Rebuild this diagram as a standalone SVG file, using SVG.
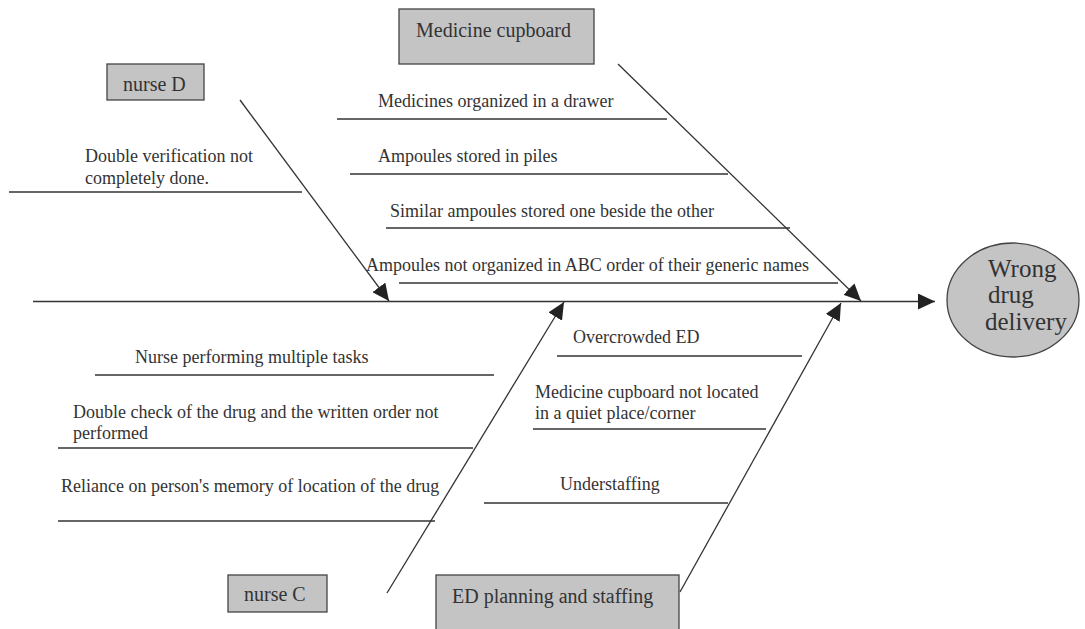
<svg xmlns="http://www.w3.org/2000/svg" width="1085" height="629" viewBox="0 0 1085 629" font-family="Liberation Serif, DejaVu Serif, serif">
<style>
  .lbl{font-size:18px;fill:#333}
  .box{fill:#c4c4c4;stroke:#444;stroke-width:1.3}
  .btxt{font-size:20px;fill:#333}
  .etxt{font-size:25px;fill:#333}
  .ln{stroke:#333;stroke-width:1.3;fill:none}
</style>
<defs>
  <marker id="ah" markerUnits="userSpaceOnUse" markerWidth="18" markerHeight="16" refX="17" refY="8" orient="auto">
    <path d="M0,0 L17,8 L0,16 z" fill="#222"/>
  </marker>
</defs>
<rect width="1085" height="629" fill="#fff"/>
<g id="connectors">
  <line class="ln" x1="33" y1="301.5" x2="935" y2="301.5" marker-end="url(#ah)"/>
  <line class="ln" x1="618" y1="64" x2="861" y2="301" marker-end="url(#ah)"/>
  <line class="ln" x1="240" y1="100" x2="389" y2="301" marker-end="url(#ah)"/>
  <line class="ln" x1="387" y1="593" x2="564" y2="302" marker-end="url(#ah)"/>
  <line class="ln" x1="680" y1="592" x2="841" y2="303" marker-end="url(#ah)"/>
</g>
<g id="cause-lines">
  <line class="ln" x1="337" y1="119" x2="667" y2="119"/>
  <line class="ln" x1="350" y1="174" x2="728" y2="174"/>
  <line class="ln" x1="386" y1="228" x2="790" y2="228"/>
  <line class="ln" x1="399" y1="283" x2="838" y2="283"/>
  <line class="ln" x1="9" y1="192" x2="302" y2="192"/>
  <line class="ln" x1="95" y1="375" x2="494" y2="375"/>
  <line class="ln" x1="58" y1="448" x2="473" y2="448"/>
  <line class="ln" x1="58" y1="521" x2="435" y2="521"/>
  <line class="ln" x1="557" y1="356" x2="802" y2="356"/>
  <line class="ln" x1="533" y1="429" x2="766" y2="429"/>
  <line class="ln" x1="484" y1="503" x2="728" y2="503"/>
</g>
<g id="cause-labels" font-family="Liberation Serif, DejaVu Serif, serif">
  <text class="lbl" x="378" y="107">Medicines organized in a drawer</text>
  <text class="lbl" x="378" y="162">Ampoules stored in piles</text>
  <text class="lbl" x="390" y="217">Similar ampoules stored one beside the other</text>
  <text class="lbl" x="366" y="271">Ampoules not organized in ABC order of their generic names</text>
  <text class="lbl" x="85" y="162">Double verification not</text>
  <text class="lbl" x="85" y="184">completely done.</text>
  <text class="lbl" x="135" y="363">Nurse performing multiple tasks</text>
  <text class="lbl" x="73" y="418">Double check of the drug and the written order not</text>
  <text class="lbl" x="73" y="439">performed</text>
  <text class="lbl" x="61" y="492">Reliance on person's memory of location of the drug</text>
  <text class="lbl" x="573" y="343">Overcrowded ED</text>
  <text class="lbl" x="535" y="398">Medicine cupboard not located</text>
  <text class="lbl" x="535" y="419">in a quiet place/corner</text>
  <text class="lbl" x="560" y="490">Understaffing</text>
</g>
<g id="medicine-cupboard" font-family="Liberation Serif, DejaVu Serif, serif">
  <rect class="box" x="399" y="9" width="195" height="55"/>
  <text class="btxt" x="416" y="37">Medicine cupboard</text>
</g>
<g id="nurse-d" font-family="Liberation Serif, DejaVu Serif, serif">
  <rect class="box" x="107" y="64" width="97" height="36"/>
  <text class="btxt" x="123" y="91">nurse D</text>
</g>
<g id="nurse-c" font-family="Liberation Serif, DejaVu Serif, serif">
  <rect class="box" x="228" y="575" width="99" height="37"/>
  <text class="btxt" x="244" y="601">nurse C</text>
</g>
<g id="ed-planning" font-family="Liberation Serif, DejaVu Serif, serif">
  <rect class="box" x="436" y="575" width="243" height="60"/>
  <text class="btxt" x="452" y="603">ED planning and staffing</text>
</g>
<g id="wrong-drug-delivery" font-family="Liberation Serif, DejaVu Serif, serif">
  <ellipse class="box" cx="1013" cy="300" rx="66" ry="57"/>
  <text class="etxt" x="988" y="277">Wrong</text>
  <text class="etxt" x="988" y="303">drug</text>
  <text class="etxt" x="985" y="330">delivery</text>
</g>
</svg>
